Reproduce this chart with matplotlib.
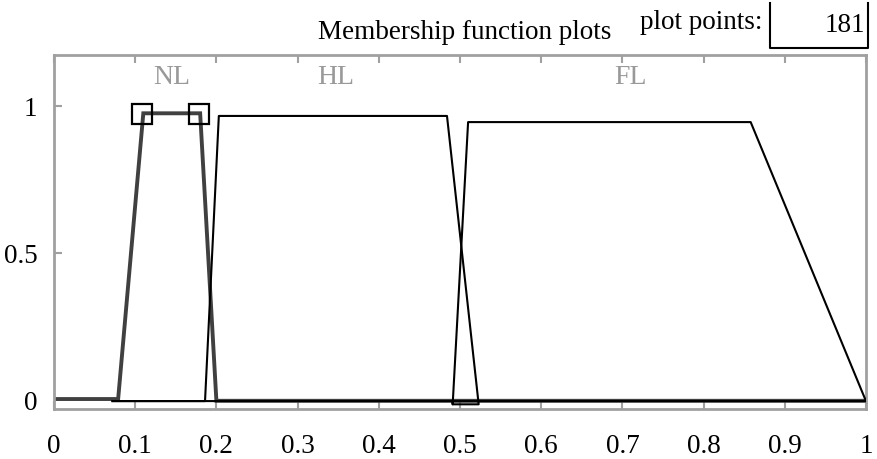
import matplotlib
matplotlib.use('Agg')
import matplotlib.pyplot as plt

# Membership functions (x, y vertices)
nl_x = [0.0, 0.079, 0.110, 0.180, 0.200, 1.0]
nl_y = [0.0, 0.0, 0.975, 0.975, -0.006, -0.006]

hl_x = [0.072, 0.186, 0.203, 0.484, 0.523, 0.491, 0.491, 1.0]
hl_y = [-0.007, -0.007, 0.966, 0.966, -0.018, -0.018, -0.007, -0.007]

fl_x = [0.072, 0.491, 0.491, 0.510, 0.858, 1.0]
fl_y = [-0.007, -0.007, -0.018, 0.945, 0.945, -0.007]

# selected-MF handles
handle_x = [0.108, 0.179]
handle_y = [0.972, 0.972]

mf_names = ['NL', 'HL', 'FL']
name_x = [0.145, 0.347, 0.71]

x_ticks = [0, 0.1, 0.2, 0.3, 0.4, 0.5, 0.6, 0.7, 0.8, 0.9, 1]
x_tick_labels = ['0', '0.1', '0.2', '0.3', '0.4', '0.5', '0.6', '0.7', '0.8', '0.9', '1']
y_ticks = [0, 0.5, 1]
y_tick_labels = ['0', '0.5', '1']

plot_points = 181

FONT = 'Liberation Serif'
AXIS_GRAY = '#a0a0a0'

fig = plt.figure(figsize=(8.78, 4.60), dpi=100)
ax = fig.add_axes([0.0615, 0.1087, 0.9863 - 0.0615, 0.8783 - 0.1087])

ax.plot(nl_x, nl_y, color='#404040', lw=2.8, solid_joinstyle='miter', zorder=2)
ax.plot(hl_x, hl_y, color='black', lw=1.5, zorder=3)
ax.plot(fl_x, fl_y, color='black', lw=1.5, zorder=3)
ax.plot(handle_x, handle_y, ls='none', marker='s', ms=14, mfc='none',
        mec='black', mew=1.6, zorder=4)

for name, nx in zip(mf_names, name_x):
    ax.text(nx, 1.10, name, color='#999999', fontsize=20, family=FONT,
            ha='center', va='center')

ax.set_xlim(0, 1)
ax.set_ylim(-0.034, 1.174)
ax.set_xticks(x_ticks)
ax.set_xticklabels(x_tick_labels)
ax.set_yticks(y_ticks)
ax.set_yticklabels(y_tick_labels)
ax.tick_params(direction='in', length=6, width=1.5, color=AXIS_GRAY,
               top=True, right=False, labelsize=19.5)
ax.tick_params(axis='x', pad=17)
ax.tick_params(axis='y', pad=12)
for lab in ax.get_xticklabels() + ax.get_yticklabels():
    lab.set_family(FONT)
for sp in ax.spines.values():
    sp.set_color(AXIS_GRAY)
    sp.set_linewidth(2.0)

# header texts
fig.text(0.5292, 0.930, 'Membership function plots', fontsize=19.5,
         family=FONT, ha='center', va='center')
fig.text(0.8679, 0.952, 'plot points:', fontsize=19.5, family=FONT,
         ha='right', va='center')
# edit box: open at the top
box_l, box_r, box_b, box_t = 770 / 878, 868 / 878, 1 - 49 / 460, 1 - 4 / 460
fig.add_artist(plt.Line2D([box_l, box_l, box_r, box_r], [box_t, box_b, box_b, box_t],
                          transform=fig.transFigure, color='black', lw=1.5))
fig.text(0.9852, 0.945, str(plot_points), fontsize=19.5, family=FONT,
         ha='right', va='center')

fig.savefig('out.png', dpi=100)
